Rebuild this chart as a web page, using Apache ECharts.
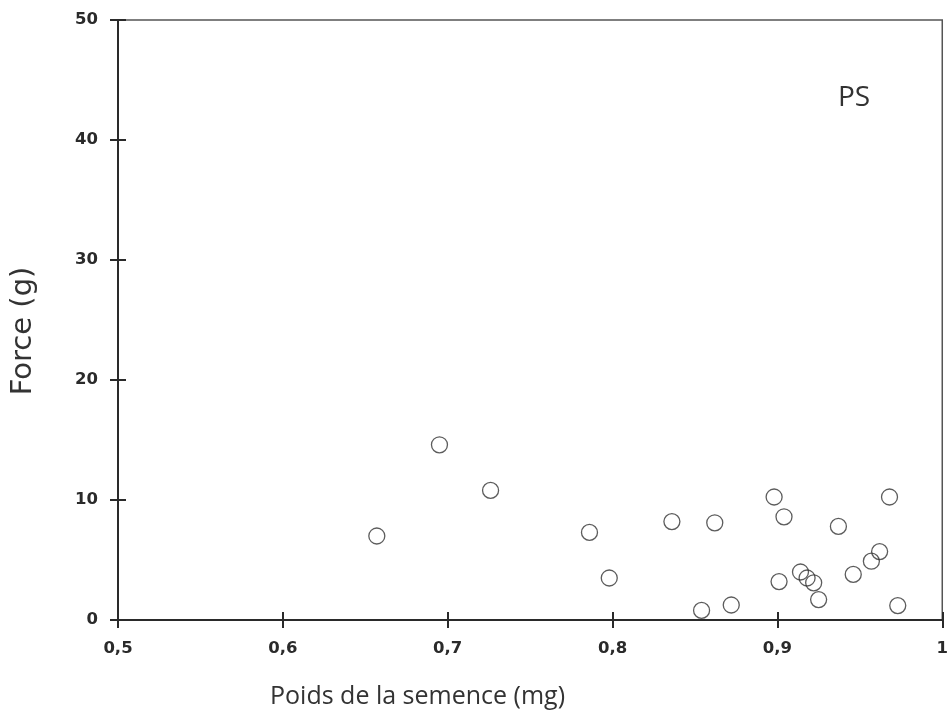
<!DOCTYPE html>
<html>
<head>
<meta charset="utf-8">
<script src="https://cdn.jsdelivr.net/npm/echarts@6/dist/echarts.min.js"></script>
<style>
html,body{margin:0;padding:0;background:#fff;overflow:hidden;}
#chart{width:951px;height:727px;}
</style>
</head>
<body>
<div id="chart"></div>
<script>
// Data
const seedWeight = [0.657, 0.695, 0.726, 0.786, 0.798, 0.836, 0.862, 0.854, 0.872, 0.898, 0.904, 0.901, 0.914, 0.918, 0.922, 0.925, 0.937, 0.946, 0.957, 0.962, 0.968, 0.973];
const force      = [7.0,   14.6,  10.8,  7.3,   3.5,   8.2,   8.1,   0.8,   1.25,  10.25, 8.6,   3.2,   4.0,   3.5,   3.1,   1.7,   7.8,   3.8,   4.9,   5.7,   10.25, 1.2];
const xTickLabels = ['0,5', '0,6', '0,7', '0,8', '0,9', '1'];
const yTickLabels = ['0', '10', '20', '30', '40', '50'];
const xTitle = 'Poids de la semence (mg)';
const yTitle = 'Force (g)';
const panelLabel = 'PS';

const points = seedWeight.map((w, i) => [w, force[i]]);

const chart = echarts.init(document.getElementById('chart'), null, {renderer: 'canvas', width: 951, height: 727});
const ink = '#2a2a2a';
const tickFont = {fontFamily: 'DejaVu Sans', fontWeight: 'bold', fontSize: 16.5, color: ink};

const baseX = {type: 'value', min: 0.5, max: 1.0, interval: 0.1, position: 'bottom', splitLine: {show: false}};
const baseY = {type: 'value', min: 0, max: 50, interval: 10, position: 'left', splitLine: {show: false}};

chart.setOption({
  animation: false,
  backgroundColor: '#fff',
  grid: {left: 118, right: 1, top: 20, bottom: 107, show: true, borderColor: '#555', borderWidth: 1.5, backgroundColor: 'transparent'},
  xAxis: [
    Object.assign({}, baseX, {
      axisLine: {show: true, lineStyle: {color: ink, width: 2}},
      axisTick: {show: true, inside: false, length: 8, lineStyle: {color: ink, width: 2}},
      axisLabel: Object.assign({}, tickFont, {margin: 20, formatter: v => xTickLabels[Math.round((v - 0.5) / 0.1)]})
    }),
    Object.assign({}, baseX, {
      axisLine: {show: false},
      axisTick: {show: true, inside: true, length: 8, lineStyle: {color: ink, width: 2}},
      axisLabel: {show: false}
    })
  ],
  yAxis: [
    Object.assign({}, baseY, {
      name: yTitle, nameLocation: 'middle', nameGap: 80,
      nameTextStyle: {fontFamily: 'DejaVu Sans', fontSize: 29, color: '#333', padding: [0, 22, 0, 0]},
      axisLine: {show: true, lineStyle: {color: ink, width: 2}},
      axisTick: {show: true, inside: false, length: 8, lineStyle: {color: ink, width: 2}},
      axisLabel: Object.assign({}, tickFont, {margin: 20, formatter: v => yTickLabels[Math.round(v / 10)]})
    }),
    Object.assign({}, baseY, {
      axisLine: {show: false},
      axisTick: {show: true, inside: true, length: 8, lineStyle: {color: ink, width: 2}},
      axisLabel: {show: false}
    })
  ],
  graphic: [
    {type: 'text', left: 270, top: 684, style: {text: xTitle, font: '25px "Open Sans"', fill: '#333'}},
    {type: 'text', left: 838, top: 84, style: {text: panelLabel, font: '28px "Open Sans"', fill: '#333'}}
  ],
  series: [{
    type: 'scatter',
    xAxisIndex: 0, yAxisIndex: 0,
    data: points,
    symbol: 'circle',
    symbolSize: 16,
    itemStyle: {color: 'rgba(255,255,255,0)', borderColor: '#333', borderWidth: 1.3},
    silent: true
  }]
});
</script>
</body>
</html>
